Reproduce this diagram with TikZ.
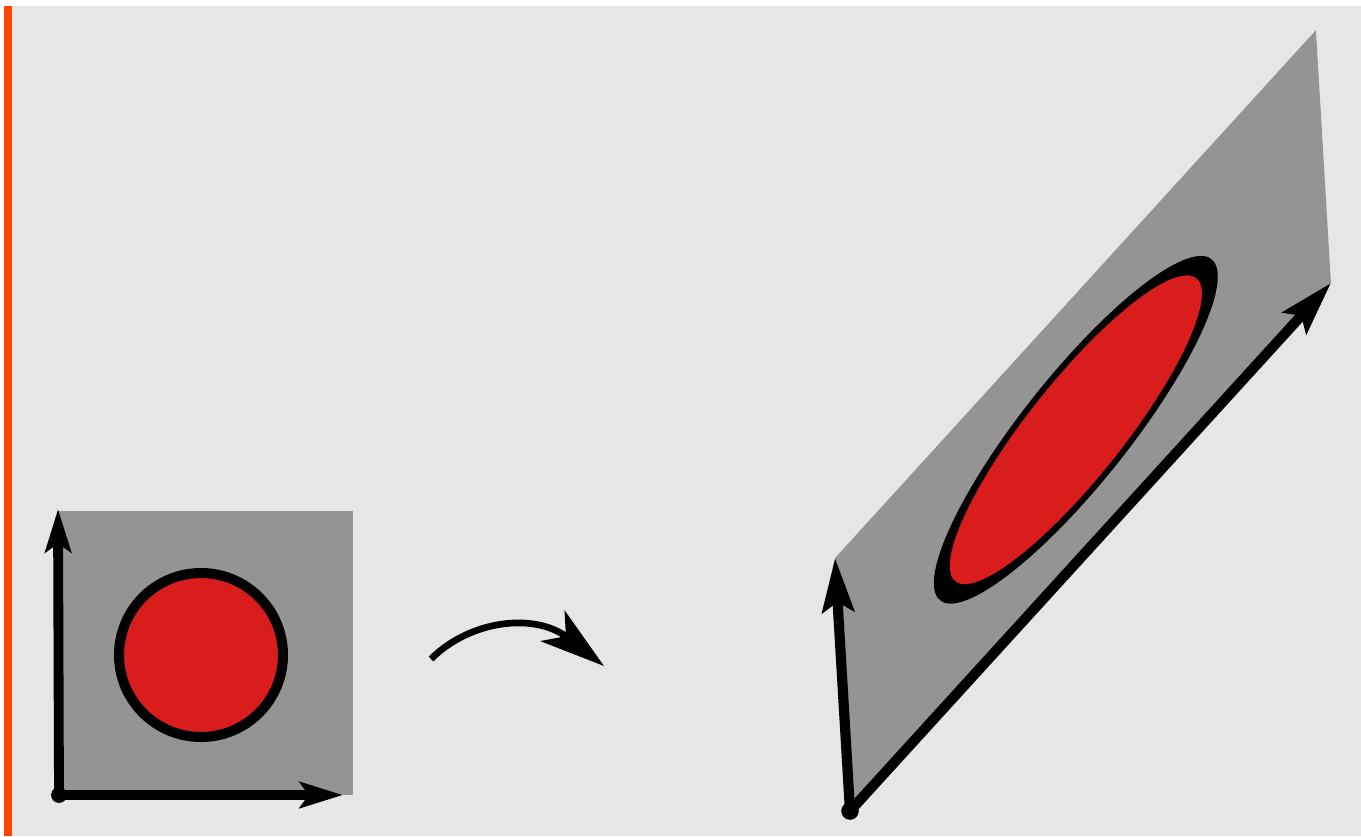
\documentclass[tikz,border=0pt]{standalone}
\usetikzlibrary{arrows.meta}
\definecolor{bggray}{RGB}{230,230,230}
\definecolor{plane}{RGB}{148,148,148}
\definecolor{disc}{RGB}{217,28,28}
\definecolor{edgeline}{RGB}{255,69,0}
\tikzset{
  axis/.style={-{Stealth[length=24.5pt, width=14.7pt, inset=5pt]}, line width=5.6pt},
  axisbig/.style={-{Stealth[length=30.5pt, width=18pt, inset=5.5pt]}, line width=5.8pt},
  maparrow/.style={-{Stealth[length=37pt, width=22pt, inset=9.5pt]}, line width=3.8pt},
  pt/.style={circle, fill, inner sep=0pt, minimum size=#1},
}

\begin{document}
\begin{tikzpicture}[x=0.02cm, y=-0.02cm]
  \useasboundingbox (0,0) rectangle (1361,836);
  \fill[bggray] (4,6) rectangle (1361,836);
  \fill[edgeline] (4,6) rectangle (12,836);

  % unit square with circle
  \fill[plane] (59,795) rectangle (353,511);
  \draw[line width=5.7pt, fill=disc] (201,655) circle[radius=82];
  \coordinate (X1) at (343,795);
  \coordinate (Y1) at (58,509);
  \node[pt=9pt] (O1) at (59,795) {};
  \draw[axis] (O1.center) -- (Y1);
  \draw[axis] (O1.center) -- (X1);

  % the map
  \coordinate (M1) at (431,659);
  \coordinate (M2) at (604,666);
  \draw[maparrow] (M1) .. controls (470,620) and (535,612) .. (M2);

  % image of the square
  \begin{scope}[shift={(850,811)}, x={(9.62cm,10.56cm)}, y={(-0.30cm,5.06cm)}]
    \fill[plane] (0,0) -- (1,0) -- (1,1) -- (0,1) -- cycle;
    \fill[black] (0.485,0.495) ellipse[x radius=0.295, y radius=0.305];
    \fill[disc] (0.485,0.495) ellipse[x radius=0.262, y radius=0.271];
    \coordinate (X2) at (1,0);
    \coordinate (Y2) at (0,1);
  \end{scope}
  \node[pt=10pt] (O2) at (850,811) {};
  \draw[axisbig] (O2.center) -- (Y2);
  \draw[axisbig] (O2.center) -- (X2);
\end{tikzpicture}
\end{document}
